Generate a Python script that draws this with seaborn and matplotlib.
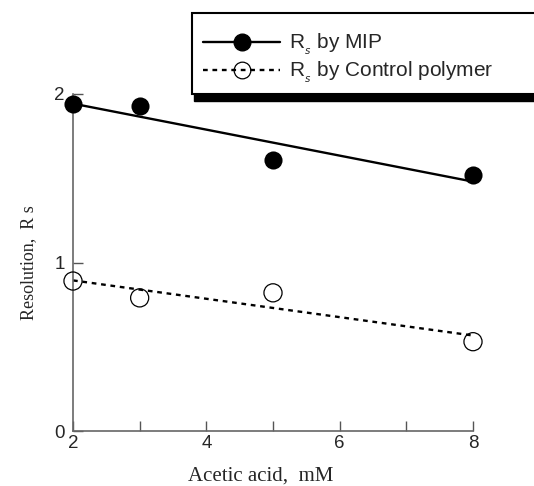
import numpy as np
import pandas as pd
import seaborn as sns
import matplotlib.pyplot as plt
from matplotlib.lines import Line2D
from matplotlib.patches import Rectangle

# Data
acetic_acid = [2, 3, 5, 8]
rs_mip = [1.94, 1.93, 1.61, 1.52]
rs_control = [0.89, 0.79, 0.82, 0.53]

df = pd.DataFrame({'acid': acetic_acid, 'mip': rs_mip, 'control': rs_control})

sns.set_style('ticks')
plt.rcParams['font.family'] = ['Liberation Sans', 'DejaVu Sans']

fig = plt.figure(figsize=(5.34, 4.86), dpi=100)
ax = fig.add_axes([73/534, 1 - 431/486, 400/534, 337/486])

# MIP: filled circles + solid fit line
sns.regplot(data=df, x='acid', y='mip', ci=None, ax=ax,
            scatter_kws=dict(s=170, color='black', alpha=1, clip_on=False, zorder=3, linewidths=0),
            line_kws=dict(color='black', lw=1.7, clip_on=False))
# Control polymer: open circles + dotted fit line
sns.regplot(data=df, x='acid', y='control', ci=None, ax=ax,
            scatter_kws=dict(s=170, facecolors='none', edgecolors='black', alpha=1,
                             linewidths=0.9, clip_on=False, zorder=3),
            line_kws=dict(color='black', lw=1.7, ls=(0, (2, 2)), clip_on=False))

ax.set_xlim(2, 8)
ax.set_ylim(0, 2)
ax.set_xticks([2, 4, 6, 8])
ax.set_xticks([3, 5, 7], minor=True)
ax.set_yticks([0, 1, 2])
ax.tick_params(axis='both', which='both', direction='in', length=7, width=1,
               color='#555555', labelsize=13.5, pad=3)
ax.tick_params(axis='y', pad=6)
sns.despine(ax=ax)
for s in ['left', 'bottom']:
    ax.spines[s].set_color('#666666')
    ax.spines[s].set_linewidth(1.2)

ax.set_xlabel('Acetic acid,  mM', family='Liberation Serif', fontsize=15, labelpad=7)
ax.xaxis.set_label_coords(0.47, -0.105)
ax.set_ylabel('Resolution,  R s', family='Liberation Serif', fontsize=13, labelpad=12)

# Legend box with drop shadow, running off the right edge
fig.patches.append(Rectangle((194/534, 1 - 101/486), 0.7, 82/486, transform=fig.transFigure,
                             facecolor='black', edgecolor='black', zorder=1))
fig.patches.append(Rectangle((192/534, 1 - 94/486), 0.7, 81/486, transform=fig.transFigure,
                             facecolor='white', edgecolor='black', lw=1.5, zorder=2))

handles = [
    Line2D([], [], color='black', lw=1.7, marker='o', markersize=12),
    Line2D([], [], color='black', lw=1.7, ls=(0, (2, 2)), marker='o', markersize=12,
           markerfacecolor='none', markeredgewidth=0.9),
]
labels = ['R$_{_s}$ by MIP', 'R$_{_s}$ by Control polymer']
leg = fig.legend(handles, labels, loc='upper left', bbox_to_anchor=(203/534, 1 - 32/486),
                 frameon=False, handlelength=3.7, handletextpad=0.45, labelspacing=0.15,
                 fontsize=15, borderpad=0, borderaxespad=0)
leg.set_zorder(5)

fig.savefig('out.png', dpi=100)
